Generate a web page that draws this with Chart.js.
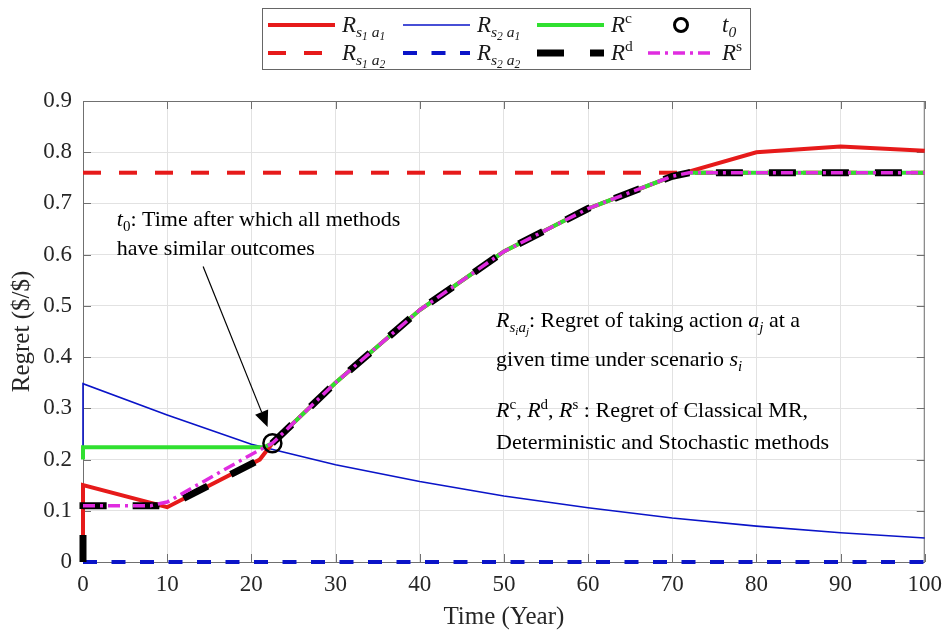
<!DOCTYPE html>
<html>
<head>
<meta charset="utf-8">
<script src="https://cdn.jsdelivr.net/npm/chart.js@4/dist/chart.umd.min.js"></script>
<style>
  html, body { margin: 0; padding: 0; background: #ffffff; }
  canvas { display: block; }
</style>
</head>
<body>
<canvas id="regretChart" width="951" height="635"></canvas>
<script>
// shared part of the regret curves after t0 (year, $/$)
const yearsCommon  = [22.5, 30, 40, 50, 60, 70, 72];
const regretCommon = [0.232, 0.35, 0.492, 0.606, 0.69, 0.753, 0.76];

// R_{s1 a1}
const yearsS1A1  = [0, 0, 10, 21];
const regretS1A1 = [0, 0.15, 0.107, 0.2];
const yearsS1A1Tail  = [80, 90, 100];
const regretS1A1Tail = [0.8, 0.811, 0.803];

// R_{s1 a2}
const yearsS1A2  = [0, 100];
const regretS1A2 = [0.76, 0.76];

// R_{s2 a1}
const yearsS2A1  = [0, 0, 10, 20, 30, 40, 50, 60, 70, 80, 90, 100];
const regretS2A1 = [0.21, 0.348, 0.287, 0.23, 0.19, 0.157, 0.129, 0.106, 0.086, 0.07, 0.057, 0.047];

// R_{s2 a2}
const yearsS2A2  = [0, 100];
const regretS2A2 = [0, 0];

// classical MR
const yearsRc  = [0, 0, 21.5];
const regretRc = [0.2, 0.224, 0.224];

// deterministic
const yearsRd  = [0, 0, 9, 10, 21];
const regretRd = [0, 0.11, 0.11, 0.108, 0.2];

// stochastic
const yearsRs  = [0, 8, 10, 20];
const regretRs = [0.11, 0.11, 0.117, 0.21];

// flat end for the three methods
const yearsFlat  = [100];
const regretFlat = [0.76];

// t0 marker
const yearT0   = [22.5];
const regretT0 = [0.232];

const xTicks = [0, 10, 20, 30, 40, 50, 60, 70, 80, 90, 100];
const yTicks = [0, 0.1, 0.2, 0.3, 0.4, 0.5, 0.6, 0.7, 0.8, 0.9];

const SERIF = "'Liberation Serif', 'Times New Roman', serif";

function pts(xs, ys) {
  return xs.map((x, i) => ({ x: x, y: ys[i] }));
}

const RED = '#e61a1a', BLUE = '#0a14c8', GREEN = '#30e030', MAGENTA = '#e02ce0';

const datasets = [
  { key: 's1a1', data: pts([...yearsS1A1, ...yearsCommon.slice(0, 6), ...yearsS1A1Tail],
                            [...regretS1A1, ...regretCommon.slice(0, 6), ...regretS1A1Tail]),
    borderColor: RED, borderWidth: 4, borderDash: [], order: 4 },
  { key: 's1a2', data: pts(yearsS1A2, regretS1A2),
    borderColor: RED, borderWidth: 4, borderDash: [18, 18], order: 5 },
  { key: 's2a1', data: pts(yearsS2A1, regretS2A1),
    borderColor: BLUE, borderWidth: 1.6, borderDash: [], order: 6 },
  { key: 's2a2', data: pts(yearsS2A2, regretS2A2),
    borderColor: BLUE, borderWidth: 4, borderDash: [14, 14.5], order: 7 },
  { key: 'rc', data: pts([...yearsRc, ...yearsCommon, ...yearsFlat],
                          [...regretRc, ...regretCommon, ...regretFlat]),
    borderColor: GREEN, borderWidth: 4, borderDash: [], order: 3 },
  { key: 'rd', data: pts([...yearsRd, ...yearsCommon, ...yearsFlat],
                          [...regretRd, ...regretCommon, ...regretFlat]),
    borderColor: '#000000', borderWidth: 7, borderDash: [27, 26], order: 2 },
  { key: 'rs', data: pts([...yearsRs, ...yearsCommon, ...yearsFlat],
                          [...regretRs, ...regretCommon, ...regretFlat]),
    borderColor: MAGENTA, borderWidth: 3.5, borderDash: [12, 5, 3, 5], order: 1 },
  { key: 't0', data: pts(yearT0, regretT0), showLine: false,
    borderColor: '#000000', backgroundColor: 'rgba(0,0,0,0)', borderWidth: 2.5,
    pointRadius: 9, pointStyle: 'circle', order: 0 }
].map(d => Object.assign({ pointRadius: 0, fill: false, tension: 0, clip: 6,
                           borderCapStyle: 'butt', borderJoinStyle: 'miter' }, d));

// legend text pieces: l = 1 sub, 2 sub-sub, -1 superscript; i = italic
const legendLabels = {
  s1a1: [{t:'R',i:1},{t:'s',i:1,l:1},{t:'1',i:1,l:2},{t:' ',l:1},{t:'a',i:1,l:1},{t:'1',i:1,l:2}],
  s1a2: [{t:'R',i:1},{t:'s',i:1,l:1},{t:'1',i:1,l:2},{t:' ',l:1},{t:'a',i:1,l:1},{t:'2',i:1,l:2}],
  s2a1: [{t:'R',i:1},{t:'s',i:1,l:1},{t:'2',i:1,l:2},{t:' ',l:1},{t:'a',i:1,l:1},{t:'1',i:1,l:2}],
  s2a2: [{t:'R',i:1},{t:'s',i:1,l:1},{t:'2',i:1,l:2},{t:' ',l:1},{t:'a',i:1,l:1},{t:'2',i:1,l:2}],
  rc:   [{t:'R',i:1},{t:'c',l:-1}],
  rd:   [{t:'R',i:1},{t:'d',l:-1}],
  rs:   [{t:'R',i:1},{t:'s',l:-1}],
  t0:   [{t:'t',i:1},{t:'0',i:1,l:1}]
};
// legend grid: columns left to right, top row then bottom row
const legendRows = [['s1a1', 's2a1', 'rc', 't0'], ['s1a2', 's2a2', 'rd', 'rs']];

function drawRich(ctx, x, y, parts, size) {
  let cx = x;
  parts.forEach(p => {
    const lvl = p.l || 0;
    const s = lvl === 0 ? size : (lvl === 2 ? size * 0.5 : size * 0.68);
    const dy = lvl === 1 ? size * 0.22 : (lvl === 2 ? size * 0.36 : (lvl === -1 ? -size * 0.38 : 0));
    ctx.font = (p.i ? 'italic ' : '') + s.toFixed(1) + 'px ' + SERIF;
    ctx.fillText(p.t, cx, y + dy);
    cx += ctx.measureText(p.t).width;
  });
  return cx;
}

const legendPlugin = {
  id: 'matlabLegend',
  afterDraw(chart) {
    const ctx = chart.ctx;
    const box = { left: 262, top: 8, width: 488, height: 61 };
    const colX = [6, 141, 275, 386];
    const rowY = [25, 53];
    ctx.save();
    ctx.fillStyle = '#ffffff';
    ctx.fillRect(box.left, box.top, box.width, box.height);
    ctx.strokeStyle = '#666666';
    ctx.lineWidth = 1;
    ctx.strokeRect(box.left + 0.5, box.top + 0.5, box.width, box.height);
    legendRows.forEach((row, r) => {
      row.forEach((key, c) => {
        const ds = chart.data.datasets.find(d => d.key === key);
        const x0 = box.left + colX[c], y0 = rowY[r];
        ctx.strokeStyle = ds.borderColor;
        ctx.lineWidth = ds.borderWidth;
        if (ds.showLine === false) {
          ctx.beginPath();
          ctx.arc(x0 + 33, y0, 6.5, 0, Math.PI * 2);
          ctx.lineWidth = 3;
          ctx.stroke();
        } else {
          ctx.setLineDash(ds.borderDash);
          ctx.beginPath();
          ctx.moveTo(x0, y0);
          ctx.lineTo(x0 + 67, y0);
          ctx.stroke();
          ctx.setLineDash([]);
        }
        ctx.fillStyle = '#1a1a1a';
        ctx.textBaseline = 'alphabetic';
        ctx.textAlign = 'left';
        drawRich(ctx, x0 + 74, y0 + 7, legendLabels[key], 23);
      });
    });
    ctx.restore();
  }
};

// box on top/right and inward tick marks
const framePlugin = {
  id: 'axesFrame',
  beforeDatasetsDraw(chart) {
    const {ctx, chartArea: a, scales: {x, y}} = chart;
    ctx.save();
    ctx.strokeStyle = '#707070';
    ctx.lineWidth = 1;
    ctx.beginPath();
    ctx.moveTo(a.left, a.top + 0.5); ctx.lineTo(a.right, a.top + 0.5);
    ctx.moveTo(a.right - 0.5, a.top); ctx.lineTo(a.right - 0.5, a.bottom);
    xTicks.forEach(v => {
      const px = Math.round(x.getPixelForValue(v)) + 0.5;
      ctx.moveTo(px, a.bottom); ctx.lineTo(px, a.bottom - 8);
      ctx.moveTo(px, a.top); ctx.lineTo(px, a.top + 8);
    });
    yTicks.forEach(v => {
      const py = Math.round(y.getPixelForValue(v)) + 0.5;
      ctx.moveTo(a.left, py); ctx.lineTo(a.left + 8, py);
      ctx.moveTo(a.right, py); ctx.lineTo(a.right - 8, py);
    });
    ctx.stroke();
    ctx.restore();
  }
};

const notePlugin = {
  id: 'notes',
  afterDraw(chart) {
    const {ctx, scales: {x, y}} = chart;
    const X = v => x.getPixelForValue(v), Y = v => y.getPixelForValue(v);
    ctx.save();
    ctx.fillStyle = '#000000';
    ctx.textAlign = 'left';
    ctx.textBaseline = 'alphabetic';
    const fs = 22;
    drawRich(ctx, X(4.02), Y(0.655), [{t:'t',i:1},{t:'0',l:1},{t:': Time after which all methods'}], fs);
    drawRich(ctx, X(4.02), Y(0.599), [{t:'have similar outcomes'}], fs);

    drawRich(ctx, X(49.07), Y(0.459), [{t:'R',i:1},{t:'s',i:1,l:1},{t:'i',i:1,l:2},{t:'a',i:1,l:1},{t:'j',i:1,l:2},
      {t:': Regret of taking action '},{t:'a',i:1},{t:'j',i:1,l:1},{t:' at a'}], fs);
    drawRich(ctx, X(49.07), Y(0.382), [{t:'given time under scenario '},{t:'s',i:1},{t:'i',i:1,l:1}], fs);
    drawRich(ctx, X(49.07), Y(0.283), [{t:'R',i:1},{t:'c',l:-1},{t:', '},{t:'R',i:1},{t:'d',l:-1},{t:', '},
      {t:'R',i:1},{t:'s',l:-1},{t:' : Regret of Classical MR,'}], fs);
    drawRich(ctx, X(49.07), Y(0.221), [{t:'Deterministic and Stochastic methods'}], fs);

    // arrow to t0
    const x1 = X(14.27), y1 = Y(0.577), x2 = X(21.93), y2 = Y(0.2636);
    const ang = Math.atan2(y2 - y1, x2 - x1);
    const head = 16, half = 7;
    const bx = x2 - head * Math.cos(ang), by = y2 - head * Math.sin(ang);
    ctx.strokeStyle = '#000000';
    ctx.lineWidth = 1.2;
    ctx.beginPath();
    ctx.moveTo(x1, y1); ctx.lineTo(bx, by);
    ctx.stroke();
    ctx.beginPath();
    ctx.moveTo(x2, y2);
    ctx.lineTo(bx + half * Math.sin(ang), by - half * Math.cos(ang));
    ctx.lineTo(bx - half * Math.sin(ang), by + half * Math.cos(ang));
    ctx.closePath();
    ctx.fill();
    ctx.restore();
  }
};

const tickFont = { family: SERIF, size: 23 };
const titleFont = { family: SERIF, size: 25 };

new Chart(document.getElementById('regretChart').getContext('2d'), {
  type: 'line',
  data: { datasets: datasets },
  options: {
    responsive: false,
    devicePixelRatio: 1,
    animation: false,
    layout: { padding: { top: 101, right: 22, left: 0, bottom: 0 } },
    plugins: { legend: { display: false }, tooltip: { enabled: false } },
    scales: {
      x: {
        type: 'linear', min: 0, max: 100,
        afterFit(scale) { scale.height = 73; },
        afterBuildTicks(scale) { scale.ticks = xTicks.map(v => ({ value: v })); },
        ticks: { font: tickFont, color: '#262626', padding: 9, maxRotation: 0,
                 callback: v => String(v) },
        grid: { color: '#e2e2e2', lineWidth: 1, drawTicks: false },
        border: { color: '#707070', width: 1 },
        title: { display: true, text: 'Time (Year)', font: titleFont, color: '#262626',
                 padding: { top: 0, bottom: 3 } }
      },
      y: {
        type: 'linear', min: 0, max: 0.9,
        afterFit(scale) { scale.width = 83; },
        afterBuildTicks(scale) { scale.ticks = yTicks.map(v => ({ value: v })); },
        ticks: { font: tickFont, color: '#262626', padding: 11,
                 callback: v => (v === 0 ? '0' : v.toFixed(1)) },
        grid: { color: '#e2e2e2', lineWidth: 1, drawTicks: false },
        border: { color: '#707070', width: 1 },
        title: { display: true, text: 'Regret ($/$)', font: titleFont, color: '#262626',
                 padding: { top: 7, bottom: 0 } }
      }
    }
  },
  plugins: [framePlugin, legendPlugin, notePlugin]
});
</script>
</body>
</html>
